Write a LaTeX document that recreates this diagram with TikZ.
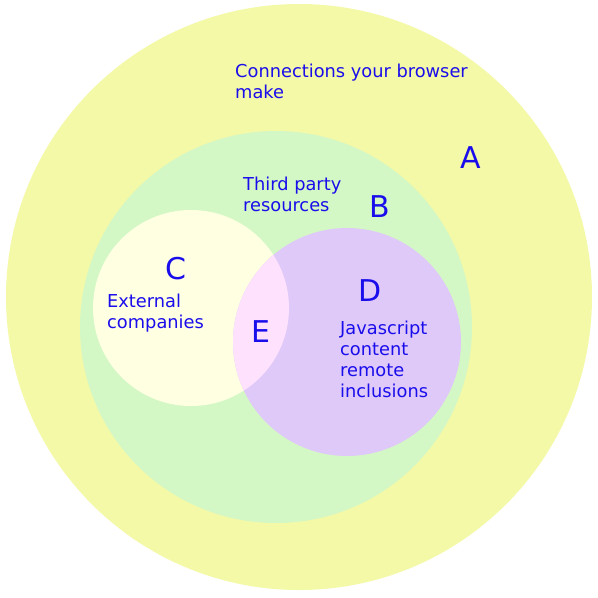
\documentclass[tikz,border=0pt]{standalone}
\usepackage{fontspec}
\setmainfont{DejaVu Sans}
\definecolor{colA}{HTML}{F4F9A8}
\definecolor{colB}{HTML}{D4F8C5}
\definecolor{colC}{HTML}{FFFFE2}
\definecolor{colD}{HTML}{DFC9F8}
\definecolor{colE}{HTML}{FDE1FD}
\definecolor{txt}{HTML}{1A0DEB}
\tikzset{
  label text/.style={text=txt, font=\fontsize{17.8}{21}\selectfont, align=left, anchor=base west, inner sep=0pt},
  big letter/.style={text=txt, font=\fontsize{30}{30}\selectfont, inner sep=0pt}
}
\begin{document}
\begin{tikzpicture}[x=1pt,y=-1pt]
\useasboundingbox[fill=white] (0,0) rectangle (598,598);
\fill[colA] (299,297) circle (293);
\fill[colB] (276,327) circle (196);
\fill[colC] (191,308) circle (98);
\fill[colD] (347,342) circle (114);
\begin{scope}
  \clip (191,308) circle (98);
  \fill[colE] (347,342) circle (114);
\end{scope}
\node[label text] (tA) at (235,98) {Connections your browser\\make};
\node[label text] (tB) at (243,211) {Third party\\resources};
\node[label text] (tC) at (107,328) {External\\companies};
\node[label text] (tD) at (340,397) {Javascript\\content\\remote\\inclusions};
\node[big letter] (lA) at (471,158) {A};
\node[big letter] (lB) at (380,207) {B};
\node[big letter] (lC) at (176,269) {C};
\node[big letter] (lD) at (370,291) {D};
\node[big letter] (lE) at (261,332) {E};
\end{tikzpicture}
\end{document}
